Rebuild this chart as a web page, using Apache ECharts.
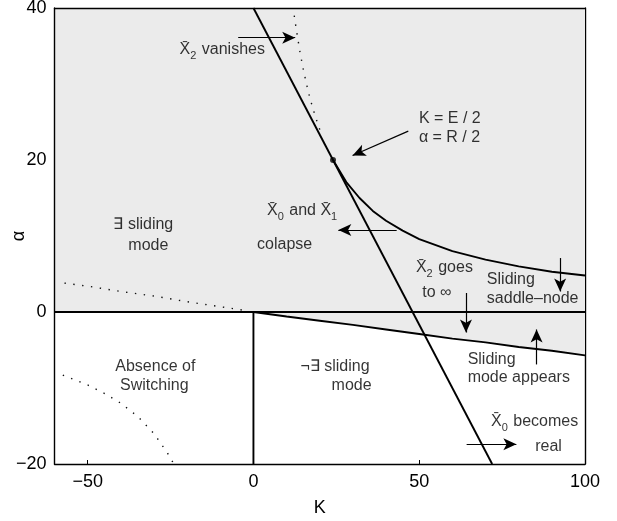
<!DOCTYPE html>
<html>
<head>
<meta charset="utf-8">
<script src="https://cdn.jsdelivr.net/npm/echarts@6/dist/echarts.min.js"></script>
<style>
  html, body { margin: 0; padding: 0; background: #fff; }
  #chart { width: 617px; height: 521px; }
</style>
</head>
<body>
<div id="chart"></div>
<script>
// axis ticks
const kTicks = [-50, 0, 50, 100]
const alphaTicks = [-20, 0, 20, 40]

// curves, [K, alpha]
const zeroLine = [[-60, 0], [100, 0]]
const switchLine = [[0, -20], [0, 0]]
const steepLine = [[0, 40], [72, -20]]
const lowerCurve = [
  [0, 0], [10, -0.6], [20, -1.15], [30, -1.7], [40, -2.3], [50, -2.9],
  [60, -3.5], [70, -4.0], [80, -4.6], [90, -5.1], [100, -5.7],
]
const saddleCurve = [
  [24, 20], [28, 17.1], [32, 15], [36, 13.3], [40, 12], [45, 10.7],
  [50, 9.6], [60, 8], [70, 6.9], [80, 6], [90, 5.3], [100, 4.8],
]
const dottedTop = [
  [12.3, 39], [13, 37], [14, 34.3], [15, 32], [16, 30], [17, 28.2],
  [18, 26.7], [19, 25.3], [20, 24],
]
const dottedLeftUpper = [
  [-57, 3.8], [-50, 3.4], [-40, 2.7], [-30, 2.1], [-20, 1.35], [-10, 0.7], [-2.5, 0.2],
]
const dottedLeftLower = [
  [-57.5, -8.3], [-50, -9.6], [-45, -10.7], [-40, -12], [-35, -13.7],
  [-30, -16], [-26, -18.5], [-24, -20],
]
const tangentPoint = [[24, 20]]

// annotation arrows, [from, to]
const arrows = [
  [[-4.6, 36.1], [12.6, 36.1]],
  [[46.7, 23.8], [29.9, 20.6]],
  [[43.2, 10.8], [25.6, 10.8]],
  [[64.1, 2.5], [64.1, -2.7]],
  [[92.5, 7.1], [92.5, 2.7]],
  [[85.4, -6.9], [85.4, -2.3]],
  [[64.3, -17.4], [79.3, -17.4]],
]

// annotation texts: [K, alpha, text, align]
const notes = [
  [-9.4, 34.5, '{o|X\u0304}{s|2} vanishes', 'center'],
  [49.9, 25.5, 'K = E / 2', 'left'],
  [49.9, 23.0, '\u03b1 = R / 2', 'left'],
  [-33.2, 11.5, '\u2203 sliding', 'center'],
  [-31.7, 8.8, 'mode', 'center'],
  [4.1, 13.3, '{o|X\u0304}{s|0} and {o|X\u0304}{s|1}', 'left'],
  [1.1, 8.9, 'colapse', 'left'],
  [57.6, 5.8, '{o|X\u0304}{s|2} goes', 'center'],
  [55.3, 2.5, 'to \u221e', 'center'],
  [70.4, 4.2, 'Sliding', 'left'],
  [70.4, 1.7, 'saddle\u2013node', 'left'],
  [64.6, -6.3, 'Sliding', 'left'],
  [64.6, -8.6, 'mode appears', 'left'],
  [-29.6, -7.2, 'Absence of', 'center'],
  [-29.9, -9.7, 'Switching', 'center'],
  [24.6, -7.2, '\u00ac\u2203 sliding', 'center'],
  [29.6, -9.7, 'mode', 'center'],
  [84.8, -14.4, '{o|X\u0304}{s|0} becomes', 'center'],
  [89.0, -17.7, 'real', 'center'],
]

const FONT = '"Liberation Sans", Arial, Helvetica, sans-serif'
const minus = v => String(v).replace('-', '\u2212')

const chart = echarts.init(document.getElementById('chart'), null, { renderer: 'canvas' })

const lineSeries = (data, extra) => Object.assign({
  type: 'line',
  data,
  symbol: 'none',
  silent: true,
  animation: false,
  z: 3,
  lineStyle: { color: '#000', width: 1.9 },
}, extra)

const dotted = data => lineSeries(data, {
  lineStyle: { color: '#111', width: 1.4, type: [1.4, 7.5] },
})

const frame = { show: true, onZero: false, lineStyle: { color: '#000', width: 1.4 } }

chart.setOption({
  animation: false,
  textStyle: { fontFamily: FONT },
  grid: { left: 54.5, right: 32, top: 8, bottom: 57, outerBoundsMode: 'none' },
  xAxis: [
    {
      type: 'value', min: -60, max: 100, z: 5,
      name: 'K', nameLocation: 'middle', nameGap: 35, nameMoveOverlap: false,
      nameTextStyle: { fontSize: 18, color: '#000', fontFamily: FONT },
      axisLine: frame,
      axisTick: { show: true, inside: true, length: 4, customValues: kTicks, lineStyle: { color: '#000' } },
      axisLabel: { customValues: kTicks, formatter: minus, fontSize: 18, color: '#000', margin: 9, fontFamily: FONT },
      splitLine: { show: false },
    },
    {
      type: 'value', min: -60, max: 100, position: 'top', z: 5,
      axisLine: frame,
      axisTick: { show: false }, axisLabel: { show: false }, splitLine: { show: false },
    },
  ],
  yAxis: [
    {
      type: 'value', min: -20, max: 40, interval: 20, z: 5,
      name: '\u03b1', nameLocation: 'middle', nameGap: 26, nameRotate: 90, nameMoveOverlap: false,
      nameTextStyle: { fontSize: 18, color: '#000', fontFamily: FONT },
      axisLine: frame,
      axisTick: { show: false },
      axisLabel: { formatter: minus, fontSize: 18, color: '#000', margin: 8, fontFamily: FONT },
      splitLine: { show: false },
    },
    {
      type: 'value', min: -20, max: 40, position: 'right', z: 1,
      axisLine: frame,
      axisTick: { show: false }, axisLabel: { show: false }, splitLine: { show: false },
    },
  ],
  series: [
    // shaded region above the lower boundary
    lineSeries([[-60, 0]].concat(lowerCurve), {
      z: 2,
      lineStyle: { width: 0 },
      areaStyle: { color: '#ebebeb', opacity: 1, origin: 'end' },
    }),
    lineSeries(zeroLine),
    lineSeries(switchLine),
    lineSeries(lowerCurve),
    lineSeries(steepLine),
    lineSeries(saddleCurve),
    dotted(dottedTop),
    dotted(dottedLeftUpper),
    dotted(dottedLeftLower),
    {
      type: 'scatter',
      data: tangentPoint,
      symbolSize: 6,
      itemStyle: { color: '#000' },
      silent: true,
      z: 4,
    },
    {
      type: 'line',
      data: [],
      silent: true,
      markLine: {
        silent: true,
        symbol: ['none', 'arrow'],
        symbolSize: [9, 13],
        label: { show: false },
        lineStyle: { color: '#000', width: 1.2, type: 'solid' },
        emphasis: { disabled: true },
        data: arrows.map(([a, b]) => [{ coord: a }, { coord: b }]),
      },
    },
    {
      type: 'scatter',
      data: notes.map(([k, a, text, align]) => ({ value: [k, a], text, align })),
      symbolSize: 0,
      silent: true,
      z: 6,
      label: {
        show: true,
        position: [0, 0],
        verticalAlign: 'middle',
        color: '#000',
        fontSize: 16,
        fontFamily: FONT,
        formatter: p => p.data.text,
        rich: {
          o: { fontSize: 16, color: '#000', fontFamily: FONT },
          s: { fontSize: 11, color: '#000', fontFamily: FONT, padding: [13, 1, 0, 0] },
        },
      },
      labelLayout: p => ({ align: notes[p.dataIndex][3] }),
    },
  ],
})
</script>
</body>
</html>
